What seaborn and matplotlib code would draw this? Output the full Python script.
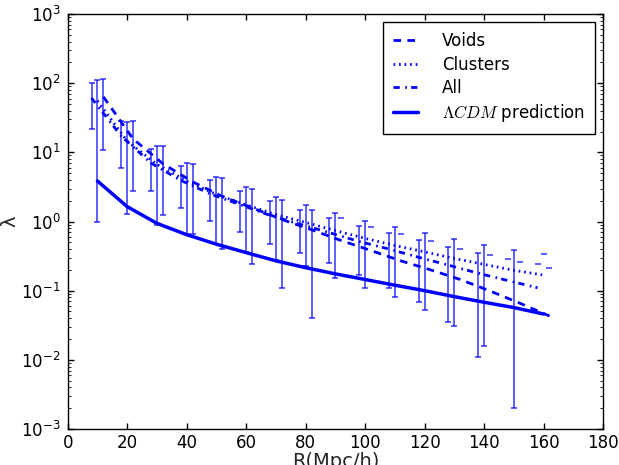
import matplotlib
matplotlib.use("Agg")
import matplotlib.pyplot as plt
import seaborn as sns

# valores
r_lcdm = [10, 20, 30, 40, 50, 60, 70, 80, 90, 100, 110, 120, 130, 140, 150, 160]
lam_lcdm = [3.85, 1.64, 0.94, 0.645, 0.47, 0.355, 0.27, 0.215, 0.175, 0.145, 0.12, 0.1, 0.082, 0.068, 0.057, 0.046]

r_voids = [12, 22, 32, 42, 52, 62, 72, 82, 92, 102, 112, 122, 132, 142, 152, 162]
lam_voids = [63.5, 15.6, 6.85, 3.75, 2.3, 1.58, 1.07, 0.76, 0.53, 0.38, 0.27, 0.2, 0.145, 0.099, 0.066, 0.043]
err_voids = [52.7, 12.8, 5.6, 3.1, 1.9, 1.34, 0.96, 0.72, 0.59, 0.46, 0.40, 0.318, 0.256, 0.229, 0.196, 0.172]

r_clusters = [10, 20, 30, 40, 50, 60, 70, 80, 90, 100, 110, 120, 130, 140, 150, 160]
lam_clusters = [55.5, 14.5, 6.7, 3.83, 2.46, 1.74, 1.26, 0.97, 0.74, 0.57, 0.45, 0.364, 0.292, 0.24, 0.197, 0.168]
err_clusters = [54.5, 13.2, 5.8, 3.17, 1.99, 1.38, 0.98, 0.74, 0.59, 0.46, 0.37, 0.311, 0.261, 0.224, 0.195, 0.174]

r_all = [8, 18, 28, 38, 48, 58, 68, 78, 88, 98, 108, 118, 128, 138, 148, 158]
lam_all = [61, 17.2, 7.0, 3.93, 2.5, 1.75, 1.23, 0.915, 0.69, 0.514, 0.40, 0.304, 0.234, 0.179, 0.14, 0.11]
err_all = [39, 11.2, 4.2, 2.35, 1.47, 1.04, 0.75, 0.57, 0.44, 0.347, 0.29, 0.236, 0.199, 0.168, 0.147, 0.13]

sns.set_style("ticks")
plt.rcParams.update({
    "font.family": ["DejaVu Sans"],
    "font.size": 12,
    "mathtext.fontset": "cm",
    "text.color": "black",
    "axes.edgecolor": "black",
    "axes.linewidth": 1.0,
    "xtick.color": "black",
    "ytick.color": "black",
    "xtick.direction": "in",
    "ytick.direction": "in",
    "xtick.top": True,
    "ytick.right": True,
    "xtick.major.size": 4,
    "ytick.major.size": 4,
    "ytick.minor.size": 2,
    "xtick.major.width": 1,
    "ytick.major.width": 1,
    "ytick.minor.width": 0.6,
    "xtick.labelsize": 12,
    "ytick.labelsize": 12,
    "ytick.major.pad": 5,
    "lines.scale_dashes": False,
    "lines.dashed_pattern": [5.5, 4.5],
    "lines.dashdot_pattern": [4.5, 4, 1.2, 3],
    "lines.dotted_pattern": [1.2, 2.8],
})

fig = plt.figure(figsize=(6.19, 4.65), dpi=100)
ax = fig.add_axes([0.1094, 0.0774, 0.8648, 0.8925])
ax.set_yscale("log", nonpositive="mask")

# barras de erro
for r, v, e in [(r_voids, lam_voids, err_voids), (r_clusters, lam_clusters, err_clusters), (r_all, lam_all, err_all)]:
    ax.errorbar(r, v, yerr=e, fmt="none", ecolor="blue", elinewidth=1.1, capsize=2, capthick=1.1, alpha=0.8)

sns.lineplot(x=r_voids, y=lam_voids, ax=ax, color="blue", linestyle="--", lw=2, label="Voids", errorbar=None)
sns.lineplot(x=r_clusters, y=lam_clusters, ax=ax, color="blue", linestyle=":", lw=2, label="Clusters", errorbar=None)
sns.lineplot(x=r_all, y=lam_all, ax=ax, color="blue", linestyle="-.", lw=2, label="All", errorbar=None)
sns.lineplot(x=r_lcdm, y=lam_lcdm, ax=ax, color="blue", linestyle="-", lw=2.5, label=r"$\Lambda CDM$ prediction", errorbar=None)

ax.set_xlim(0, 180)
ax.set_ylim(1e-3, 1e3)
ax.set_xticks(range(0, 181, 20))
ax.set_xlabel("R(Mpc/h)", fontsize=14, labelpad=0)
ax.set_ylabel("λ", fontsize=14, labelpad=1)

leg = ax.legend(loc="upper right", fancybox=False, framealpha=1, edgecolor="black",
                handlelength=1.5, handletextpad=1.4, labelspacing=0.32, borderpad=0.6)
leg.get_frame().set_linewidth(1.0)

fig.savefig("out.png", dpi=100)
